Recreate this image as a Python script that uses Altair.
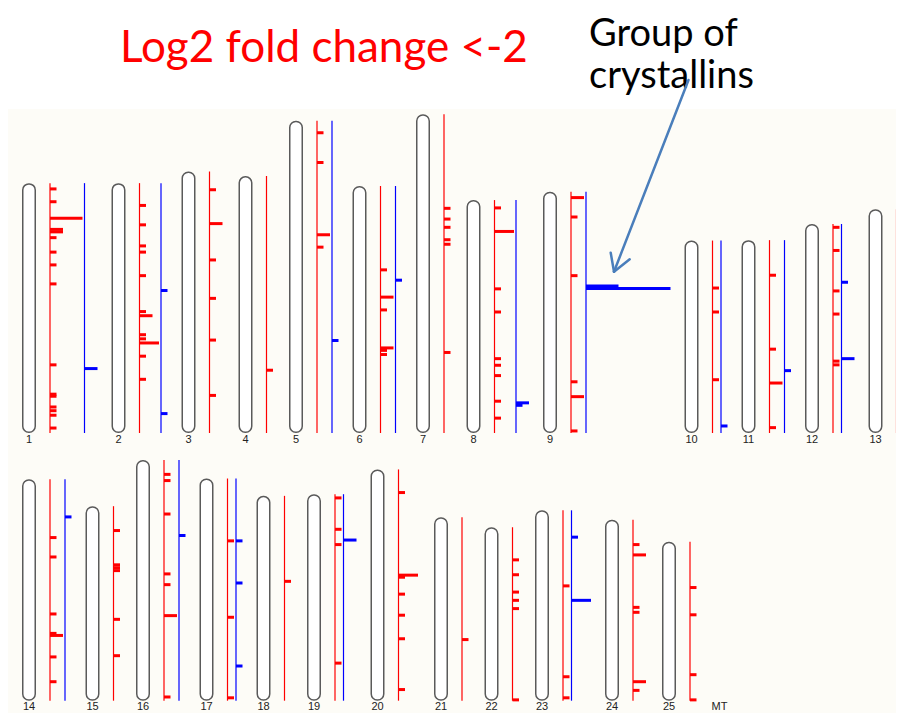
import altair as alt
import pandas as pd

# ---------------- data ----------------
CHROMS = [str(i) for i in range(1, 26)]
ROW = [0] * 13 + [1] * 12
LENGTH_MB = [60.5, 60.5, 63.3, 62.2, 75.6, 59.8, 77.2, 56.4, 58.4, 46.6, 46.7, 50.6, 54.2,
             53.6, 47.1, 58.3, 53.8, 49.6, 50.0, 56.0, 44.4, 42.0, 46.1, 43.8, 38.5]

# red track: genes with log2 fold change < -2 (position from chromosome start, Mb; count of genes)
RED_CHROM = (["1"] * 16 + ["2"] * 12 + ["3"] * 6 + ["4"] * 1 + ["5"] * 4 + ["6"] * 6 + ["7"] * 6 +
             ["8"] * 9 + ["9"] * 6 + ["10"] * 3 + ["11"] * 4 + ["12"] * 6 + ["13"] * 4 +
             ["14"] * 7 + ["15"] * 6 + ["16"] * 7 + ["17"] * 3 + ["18"] * 1 + ["19"] * 4 +
             ["20"] * 7 + ["21"] * 1 + ["22"] * 6 + ["23"] * 3 + ["24"] * 6 + ["25"] * 4)
RED_POS_MB = [1.4, 4.5, 8.5, 11.2, 11.8, 13.2, 16.7, 19.8, 24.4, 44.0, 51.1, 51.6, 54.2, 55.1, 56.2, 59.3,
              5.4, 10.1, 15.2, 16.7, 22.4, 31.1, 32.1, 36.7, 37.7, 38.7, 41.9, 47.5,
              4.4, 12.6, 21.4, 30.7, 40.8, 54.2,
              47.0,
              2.9, 10.1, 27.6, 30.6,
              20.3, 26.9, 30.0, 39.2, 39.8, 40.8,
              22.8, 25.4, 27.4, 30.4, 31.5, 57.7,
              1.9, 7.6, 21.5, 27.1, 38.4, 40.0, 42.5, 48.7, 52.8,
              1.4, 6.1, 20.3, 46.0, 49.6, 57.9,
              11.5, 17.3, 33.7,
              8.5, 26.4, 34.6, 45.4,
              0.8, 6.4, 16.2, 21.8, 33.2, 34.1,
              0.7, 8.9, 25.1, 41.3,
              14.1, 18.8, 32.6, 37.3, 37.8, 43.0, 49.0,
              5.9, 14.2, 14.9, 15.6, 27.4, 36.2,
              3.5, 5.0, 13.1, 27.6, 30.2, 37.7, 57.4,
              15.1, 33.6, 53.1,
              20.7,
              0.9, 8.5, 12.2, 40.9,
              5.6, 25.6, 26.1, 30.2, 35.3, 41.0, 53.3,
              29.6,
              7.9, 11.5, 15.7, 17.7, 19.7, 41.8,
              18.3, 40.3, 45.4,
              6.0, 8.5, 21.2, 22.4, 39.2, 41.3,
              11.1, 17.7, 32.2, 38.3]
RED_COUNT = [1, 1, 5, 2, 2, 1, 1, 1, 1, 1, 1, 1, 1, 1, 1, 1,
             1, 1, 1, 1, 1, 1, 2, 1, 1, 3, 1, 1,
             1, 2, 1, 1, 1, 1,
             1,
             1, 1, 2, 1,
             1, 2, 1, 2, 1, 1,
             1, 1, 1, 1, 1, 1,
             1, 3, 1, 1, 1, 1, 1, 1, 1,
             2, 1, 1, 1, 2, 1,
             1, 1, 1,
             1, 1, 2, 1,
             1, 1, 1, 1, 1, 1,
             1, 1, 1, 1,
             1, 1, 1, 1, 2, 1, 1,
             1, 1, 1, 1, 1, 1,
             1, 1, 1, 1, 1, 2, 1,
             1, 1, 1,
             1,
             1, 1, 1, 1,
             1, 3, 1, 1, 1, 1, 1,
             1,
             1, 1, 1, 1, 1, 1,
             1, 1, 1,
             1, 2, 1, 1, 2, 1,
             1, 1, 1, 1]

# blue track
BLUE_CHROM = ["1", "2", "2", "5", "6", "8", "8", "9", "9", "10", "11", "12", "12",
              "14", "16", "17", "17", "17", "19", "23", "23"]
BLUE_POS_MB = [44.9, 26.0, 55.8, 53.2, 22.8, 49.1, 49.7, 22.8, 23.4, 44.9, 31.6, 14.1, 32.6,
               9.1, 18.3, 15.1, 25.3, 45.4, 11.1, 6.5, 21.8]
BLUE_COUNT = [2, 1, 1, 1, 1, 2, 1, 5, 13, 1, 1, 1, 2,
              1, 1, 1, 1, 1, 2, 1, 3]

TITLE = "Log2 fold change <-2"
NOTE_LINES = ["Group of", "crystallins"]

# ---------------- layout ----------------
W, H = 888, 705            # plot area = page px 8..896, 8..713
PX_PER_MB = 4.13
UNIT_PX = 6.5              # px per gene in a tick
ROW_BOTTOM = [433, 700.7]  # page y of row baselines
X_START = 22
GAP = 14
TRACK_OFF = 28
BODY_W = 14


def ymb(page_y):
    return (8 + H - page_y) / PX_PER_MB


red_max = {c: 0 for c in CHROMS}
blue_max = {c: 0 for c in CHROMS}
for c, n in zip(RED_CHROM, RED_COUNT):
    red_max[c] = max(red_max[c], n)
for c, n in zip(BLUE_CHROM, BLUE_COUNT):
    blue_max[c] = max(blue_max[c], n)

cursor = [X_START, X_START]
info = {}
bodies, lines, labels = [], [], []
for c, r, L in zip(CHROMS, ROW, LENGTH_MB):
    left = cursor[r]
    red_x = left + TRACK_OFF
    blue_x = red_x + red_max[c] * UNIT_PX + 2
    end = blue_x + blue_max[c] * UNIT_PX
    cursor[r] = end + GAP
    base = ymb(ROW_BOTTOM[r])
    info[c] = dict(red=red_x, blue=blue_x, base=base, L=L)
    bodies.append(dict(x=left + 0.75, x2=left + BODY_W - 0.75,
                       y=base + 0.75 / PX_PER_MB, y2=base + L - 0.75 / PX_PER_MB))
    lines.append(dict(x=red_x, y=base, y2=base + L, track="red"))
    if blue_max[c] > 0:
        lines.append(dict(x=blue_x, y=base, y2=base + L, track="blue"))
    labels.append(dict(x=left + BODY_W / 2, y=base, text=c))
labels.append(dict(x=cursor[1] + BODY_W / 2, y=ymb(ROW_BOTTOM[1]), text="MT"))

ticks = []
for c, p, n in zip(RED_CHROM, RED_POS_MB, RED_COUNT):
    i = info[c]
    ticks.append(dict(x=i["red"], x2=i["red"] + n * UNIT_PX, y=i["base"] + i["L"] - p, track="red"))
for c, p, n in zip(BLUE_CHROM, BLUE_POS_MB, BLUE_COUNT):
    i = info[c]
    ticks.append(dict(x=i["blue"], x2=i["blue"] + n * UNIT_PX, y=i["base"] + i["L"] - p, track="blue"))

bodies = pd.DataFrame(bodies)
lines = pd.DataFrame(lines)
labels = pd.DataFrame(labels)
ticks = pd.DataFrame(ticks)

xs = alt.Scale(domain=[8, 8 + W])
ys = alt.Scale(domain=[0, H / PX_PER_MB])
col = alt.Scale(domain=["red", "blue"], range=["#ff0000", "#0000ff"])

bg = alt.Chart(pd.DataFrame([dict(x=8, x2=8 + W, y=0, y2=ymb(109))])).mark_rect(
    color="#fdfcf7").encode(
    x=alt.X("x:Q", scale=xs, axis=None), x2="x2:Q",
    y=alt.Y("y:Q", scale=ys, axis=None), y2="y2:Q")

body = alt.Chart(bodies).mark_rect(
    fill="white", stroke="#5a5a5a", strokeWidth=1.5, cornerRadius=6).encode(
    x=alt.X("x:Q", scale=xs, axis=None), x2="x2:Q",
    y=alt.Y("y:Q", scale=ys, axis=None), y2="y2:Q")

track = alt.Chart(lines).mark_rule(strokeWidth=1.2).encode(
    x=alt.X("x:Q", scale=xs, axis=None),
    y=alt.Y("y:Q", scale=ys, axis=None), y2="y2:Q",
    color=alt.Color("track:N", scale=col, legend=None))

tick = alt.Chart(ticks).mark_rule(strokeWidth=3, strokeCap="butt").encode(
    x=alt.X("x:Q", scale=xs, axis=None), x2="x2:Q",
    y=alt.Y("y:Q", scale=ys, axis=None),
    color=alt.Color("track:N", scale=col, legend=None))

lab = alt.Chart(labels).mark_text(
    font="Liberation Sans", fontSize=11, color="#222", baseline="top", align="center", dy=0.5).encode(
    x=alt.X("x:Q", scale=xs, axis=None),
    y=alt.Y("y:Q", scale=ys, axis=None),
    text="text:N")

title = alt.Chart(pd.DataFrame([dict(x=120, y=ymb(62), text=TITLE)])).mark_text(
    font="Lato", fontSize=44, color="#ff0000", align="left", baseline="alphabetic").encode(
    x=alt.X("x:Q", scale=xs, axis=None), y=alt.Y("y:Q", scale=ys, axis=None), text="text:N")

note = alt.Chart(pd.DataFrame([dict(x=589, y=ymb(46))])).mark_text(
    text=NOTE_LINES, lineHeight=42,
    font="Lato", fontSize=38, color="#000000", align="left", baseline="alphabetic").encode(
    x=alt.X("x:Q", scale=xs, axis=None), y=alt.Y("y:Q", scale=ys, axis=None))

# arrow pointing at the crystallin cluster on chromosome 9 (blue track)
tip_x = info["9"]["blue"] + 28
tip_y = ymb(271.7)
arrow = pd.DataFrame([
    dict(x=688.5, y=ymb(80), x2=tip_x, y2=tip_y),
    dict(x=tip_x - 3.3, y=ymb(252.7), x2=tip_x, y2=tip_y),
    dict(x=tip_x + 15.7, y=ymb(259.3), x2=tip_x, y2=tip_y),
])
arr = alt.Chart(arrow).mark_rule(color="#4a7ebb", strokeWidth=2.5, strokeCap="round").encode(
    x=alt.X("x:Q", scale=xs, axis=None), x2="x2:Q",
    y=alt.Y("y:Q", scale=ys, axis=None), y2="y2:Q")

chart = alt.layer(bg, body, track, tick, lab, title, note, arr).properties(
    width=W, height=H, padding=0, background="white",
    autosize=alt.AutoSizeParams(type="none"),
).configure_view(stroke=None)

chart.save("out.html", embed_options={"renderer": "svg", "actions": False})
